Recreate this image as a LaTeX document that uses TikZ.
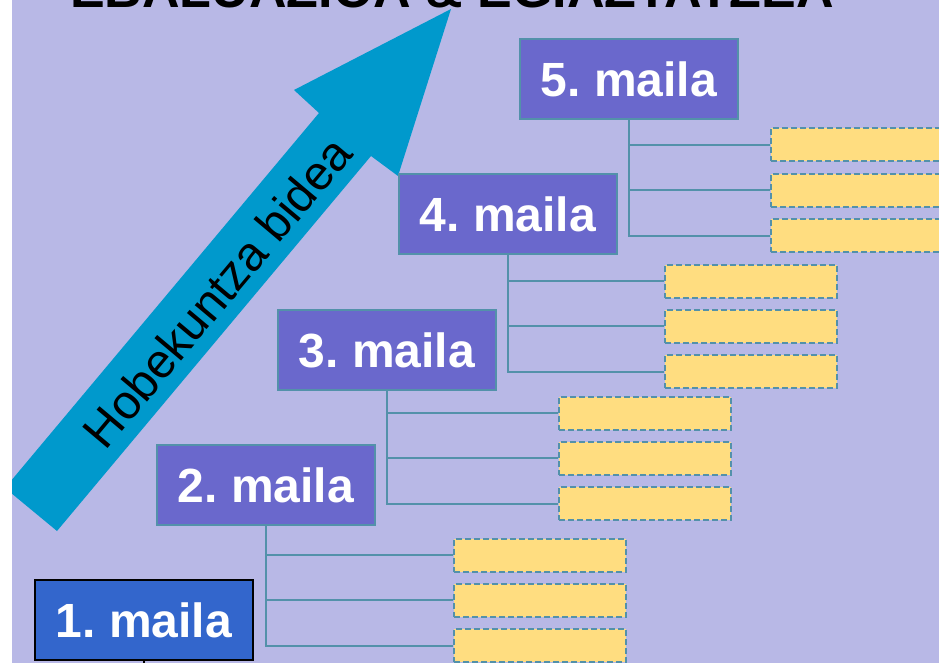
\documentclass[tikz,border=0pt]{standalone}
\usepackage{fontspec}
\setmainfont{Liberation Sans}
\frenchspacing
\definecolor{bgviolet}{HTML}{B8B8E6}
\definecolor{mailafill}{HTML}{6A68CC}
\definecolor{mailablue}{HTML}{3366CC}
\definecolor{lineteal}{HTML}{5391AA}
\definecolor{boxyellow}{HTML}{FFDD80}
\definecolor{arrowblue}{HTML}{0099CC}
\tikzset{
  maila/.style={draw=lineteal, line width=1.5pt, fill=mailafill, text=white,
    font=\fontsize{48}{50}\selectfont\bfseries,
    minimum width=218pt, minimum height=80pt, inner sep=0pt},
  hutsik/.style={draw=lineteal, fill=boxyellow, line width=2pt,
    dash pattern=on 6pt off 3pt, minimum width=172pt, minimum height=33pt, inner sep=0pt},
  adar/.style={draw=lineteal, line width=2pt}
}
\begin{document}
\begin{tikzpicture}[x=1pt,y=-1pt]
  \useasboundingbox (0,0) rectangle (939,663);
  \clip (0,0) rectangle (939,663);
  \fill[bgviolet] (12,0) rectangle (939,663);
  % title, cut off at the top
  \node[anchor=base, font=\fontsize{52}{54}\selectfont\bfseries] (titulua) at (452,7.5) {EBALUAZIOA \& EGIAZTATZEA};
  % big arrow
  \begin{scope}
    \clip (12,0) rectangle (939,663);
    \fill[arrowblue] (57,531) -- (371,156) -- (398,176) -- (451,9) -- (294,90) -- (319,113) -- (5,488) -- cycle;
  \end{scope}
  \node[rotate=50, font=\fontsize{48}{50}\selectfont] (bidea) at (217,292) {Hobekuntza bidea};
  % levels
  \node[maila, fill=mailablue, draw=black] (maila1) at (144,620) {1. maila};
  \coordinate (behera) at (144,690);
  \draw[black, line width=2pt] (maila1.south) -- (behera);
  \foreach \k/\cx/\cy in {2/266/485, 3/387/350, 4/508/214, 5/629/79}
    \node[maila] (maila\k) at (\cx,\cy) {\k. maila};
  % empty boxes of each level
  \foreach \k/\yx/\by in {2/540/555, 3/645/413, 4/751/281, 5/857/145} {
    \foreach \j in {0,1,2}
      \node[hutsik] (hutsik\k\j) at (\yx,\by+45.3*\j) {};
    \draw[adar] (maila\k.south) |- (hutsik\k2.west);
    \draw[adar] (maila\k.south |- hutsik\k0.west) -- (hutsik\k0.west);
    \draw[adar] (maila\k.south |- hutsik\k1.west) -- (hutsik\k1.west);
  }
\end{tikzpicture}
\end{document}
